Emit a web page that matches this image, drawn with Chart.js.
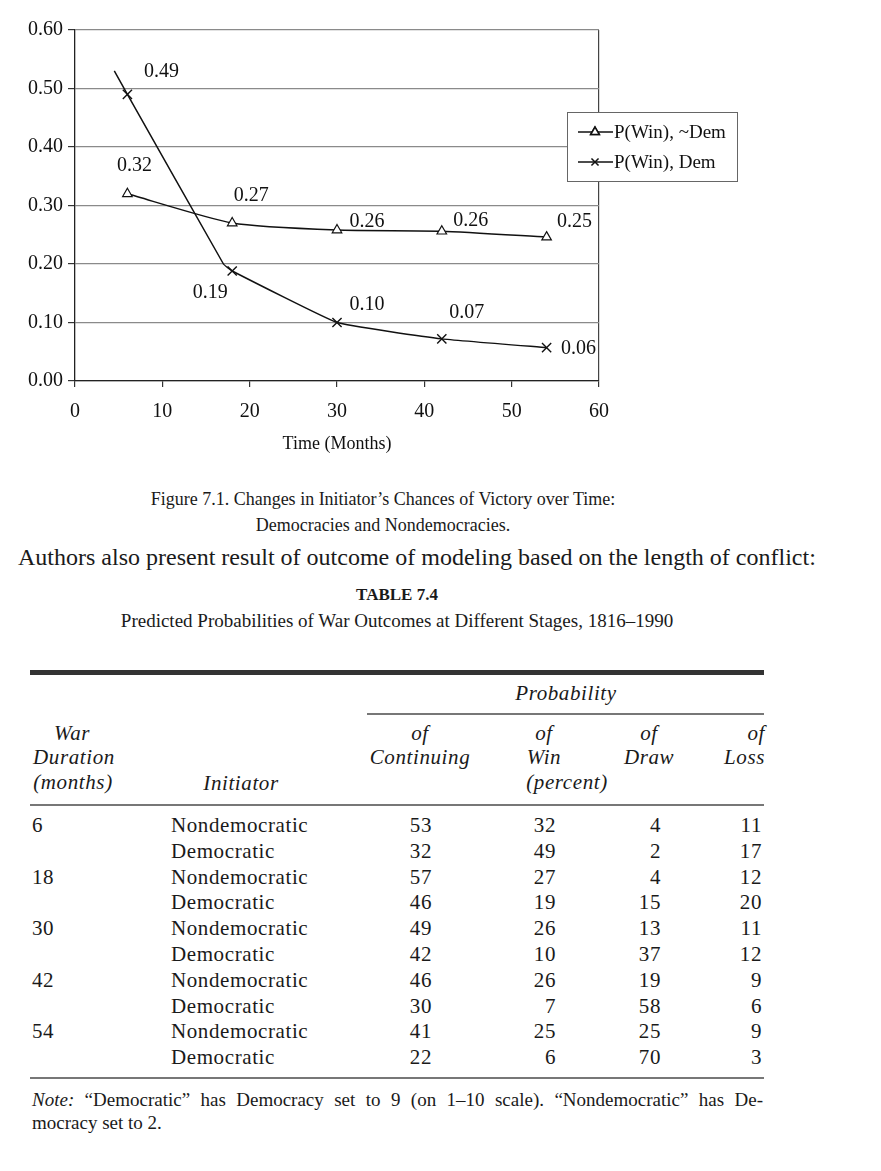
<!DOCTYPE html>
<html>
<head>
<meta charset="utf-8">
<script src="https://cdn.jsdelivr.net/npm/chart.js@4"></script>
<style>
  html, body { margin: 0; padding: 0; background: #fff; }
  body { width: 881px; height: 1171px; position: relative; overflow: hidden; font-family: "Liberation Serif", serif; color: #1a1a1a; }
  #chartBox { position: absolute; left: 0; top: 0; width: 760px; height: 465px; }
  .t { position: absolute; white-space: nowrap; }
  .c { text-align: center; }
  .rule { position: absolute; background: #333; }
  .grey { background: #777; }
  i { font-style: italic; }
</style>
</head>
<body>
<div id="chartBox"><canvas id="winChart"></canvas></div>

<div class="t c" style="left:0;width:766px;top:488px;font-size:18px;line-height:22px;">Figure 7.1. Changes in Initiator’s Chances of Victory over Time:</div>
<div class="t c" style="left:0;width:766px;top:514px;font-size:18px;line-height:22px;">Democracies and Nondemocracies.</div>
<div class="t" style="left:18px;top:543px;font-size:24px;line-height:28px;">Authors also present result of outcome of modeling based on the length of conflict:</div>
<div class="t c" style="left:0;width:794px;top:585px;font-size:17px;line-height:20px;font-weight:bold;">TABLE 7.4</div>
<div class="t c" style="left:0;width:794px;top:610px;font-size:19px;line-height:22px;">Predicted Probabilities of War Outcomes at Different Stages, 1816–1990</div>

<div id="table"></div>

<script>
// chart data
const months = [6, 18, 30, 42, 54];
const winNonDem = [0.32, 0.27, 0.258, 0.256, 0.246];
// the Dem line is drawn from a little before 6 months and bends at about 17
const demLineX = [4.5, 6, 17, 18, 30, 42, 54];
const winDem = [0.53, 0.49, 0.20, 0.188, 0.10, 0.072, 0.057];
const demMarked = [false, true, false, true, true, true, true];
const seriesNames = ["P(Win), ~Dem", "P(Win), Dem"];
const yTicks = [0, 0.1, 0.2, 0.3, 0.4, 0.5, 0.6];
const xTicks = [0, 10, 20, 30, 40, 50, 60];

// table data
const durations = ["6", "18", "30", "42", "54"];
const initiators = ["Nondemocratic", "Democratic"];
const pContinuing = [53, 32, 57, 46, 49, 42, 46, 30, 41, 22];
const pWin = [32, 49, 27, 19, 26, 10, 26, 7, 25, 6];
const pDraw = [4, 2, 4, 15, 13, 37, 19, 58, 25, 70];
const pLoss = [11, 17, 12, 20, 11, 12, 9, 6, 9, 3];

const SERIF = "'Liberation Serif', 'Times New Roman', serif";

// label offsets from each marked point (pixels)
const labelOffsets = [
    [[7, -28], [19, -27], [30, -8], [29, -10], [28, -15]],
    [[34, -23], [-22, 22], [30, -18], [25, -26], [32, 1]],
];

const pointLabels = {
    id: "pointLabels",
    afterDatasetsDraw(chart) {
        const ctx = chart.ctx;
        ctx.save();
        ctx.font = "20px " + SERIF;
        ctx.fillStyle = "#111";
        ctx.textAlign = "center";
        ctx.textBaseline = "middle";
        chart.data.datasets.forEach((ds, di) => {
            const meta = chart.getDatasetMeta(di);
            let k = 0;
            ds.data.forEach((pt, i) => {
                if (ds.marked && !ds.marked[i]) return;
                const el = meta.data[i];
                const off = labelOffsets[di][k++];
                ctx.fillText(pt.y.toFixed(2), el.x + off[0], el.y + off[1]);
            });
        });
        ctx.restore();
    },
};

const boxLegend = {
    id: "boxLegend",
    afterDraw(chart) {
        const ctx = chart.ctx;
        const x0 = 567, y0 = 112, w = 170, h = 69;
        ctx.save();
        ctx.fillStyle = "#fff";
        ctx.fillRect(x0, y0, w, h);
        ctx.strokeStyle = "#666";
        ctx.lineWidth = 1;
        ctx.strokeRect(x0 + 0.5, y0 + 0.5, w, h);
        ctx.font = "19px " + SERIF;
        ctx.fillStyle = "#111";
        ctx.textBaseline = "middle";
        chart.data.datasets.forEach((ds, i) => {
            const y = y0 + 20 + i * 30;
            ctx.strokeStyle = "#111";
            ctx.lineWidth = 1.5;
            ctx.beginPath();
            ctx.moveTo(x0 + 11, y);
            ctx.lineTo(x0 + 46, y);
            ctx.stroke();
            Chart.helpers.drawPoint(ctx, {
                pointStyle: ds.pointStyle, radius: 5, rotation: 0,
                borderWidth: 1.2,
            }, x0 + 28, y);
            if (ds.pointStyle === "triangle") {
                ctx.fillStyle = "#fff";
                ctx.fill();
                ctx.stroke();
                ctx.fillStyle = "#111";
            }
            ctx.fillText(ds.label, x0 + 47, y + 1);
        });
        ctx.restore();
    },
};

new Chart(document.getElementById("winChart"), {
    type: "line",
    data: {
        datasets: [
            {
                label: seriesNames[0],
                data: months.map((m, i) => ({ x: m, y: winNonDem[i] })),
                borderColor: "#111",
                borderWidth: 1.5,
                pointStyle: "triangle",
                pointRadius: 5.5,
                pointBackgroundColor: "#fff",
                pointBorderColor: "#111",
                pointBorderWidth: 1.2,
                tension: 0.2,
            },
            {
                label: seriesNames[1],
                data: demLineX.map((m, i) => ({ x: m, y: winDem[i] })),
                marked: demMarked,
                borderColor: "#111",
                borderWidth: 1.5,
                pointStyle: "crossRot",
                pointRadius: demMarked.map((m) => (m ? 6.5 : 0)),
                pointBorderColor: "#111",
                pointBorderWidth: 1.4,
                tension: 0.1,
            },
        ],
    },
    options: {
        responsive: true,
        maintainAspectRatio: false,
        animation: false,
        layout: { padding: { left: 0, right: 161, top: 30, bottom: 0 } },
        plugins: {
            legend: { display: false },
            tooltip: { enabled: false },
        },
        scales: {
            x: {
                type: "linear",
                min: 0,
                max: 60,
                afterBuildTicks: (s) => { s.ticks = xTicks.map((v) => ({ value: v })); },
                afterFit: (s) => { s.height = 84; },
                border: { color: "#222", width: 1.3 },
                grid: {
                    color: (c) => (c.tick && c.tick.value === 60 ? "#444" : "rgba(0,0,0,0)"),
                    tickColor: "#333",
                    tickLength: 6,
                    lineWidth: 1.2,
                },
                ticks: {
                    padding: 13,
                    color: "#111",
                    font: { family: SERIF, size: 20 },
                    maxRotation: 0,
                },
                title: {
                    display: true,
                    text: "Time (Months)",
                    color: "#111",
                    font: { family: SERIF, size: 18 },
                    padding: { top: 0, bottom: 10 },
                },
            },
            y: {
                min: 0,
                max: 0.6,
                afterBuildTicks: (s) => { s.ticks = yTicks.map((v) => ({ value: v })); },
                afterFit: (s) => { s.width = 75; },
                border: { color: "#222", width: 1.3 },
                grid: {
                    color: "#8a8a8a",
                    tickColor: "#333",
                    tickLength: 7,
                    lineWidth: 1.2,
                },
                ticks: {
                    padding: 5,
                    color: "#111",
                    font: { family: SERIF, size: 20 },
                    callback: (v) => Number(v).toFixed(2),
                },
            },
        },
    },
    plugins: [pointLabels, boxLegend],
});

// table
const table = document.getElementById("table");
function put(html, x, y, align) {
    const d = document.createElement("div");
    d.className = "t";
    d.innerHTML = html;
    let style = "top:" + (y - 13) + "px;line-height:26px;font-size:21px;letter-spacing:0.6px;";
    if (align === "center") style += "left:" + (x - 100) + "px;width:200px;text-align:center;";
    else if (align === "right") style += "left:" + (x - 200) + "px;width:200px;text-align:right;";
    else style += "left:" + x + "px;";
    d.style.cssText = style;
    table.appendChild(d);
}
function rule(x, y, w, h, cls) {
    const d = document.createElement("div");
    d.className = "rule " + (cls || "");
    d.style.cssText = "left:" + x + "px;top:" + y + "px;width:" + w + "px;height:" + h + "px;";
    table.appendChild(d);
}

rule(30, 670, 734, 5);
put("<i>Probability</i>", 566, 693, "center");
rule(367, 713, 397, 1.5, "grey");
put("<i>War</i>", 72, 733, "center");
put("<i>Duration</i>", 74, 757, "center");
put("<i>(months)</i>", 73, 782, "center");
put("<i>Initiator</i>", 241, 783, "center");
put("<i>of</i>", 420, 733, "center");
put("<i>Continuing</i>", 420, 757, "center");
put("<i>of</i>", 544, 733, "center");
put("<i>Win</i>", 544, 757, "center");
put("<i>(percent)</i>", 567, 782, "center");
put("<i>of</i>", 649, 733, "center");
put("<i>Draw</i>", 649, 757, "center");
put("<i>of</i>", 765, 733, "right");
put("<i>Loss</i>", 765, 757, "right");
rule(30, 804, 734, 2, "grey");

pContinuing.forEach((v, i) => {
    const y = 825 + i * 25.8;
    if (i % 2 === 0) put(durations[i / 2], 32, y, "left");
    put(initiators[i % 2], 171, y, "left");
    put(String(v), 432, y, "right");
    put(String(pWin[i]), 556, y, "right");
    put(String(pDraw[i]), 661, y, "right");
    put(String(pLoss[i]), 762, y, "right");
});
rule(30, 1077, 734, 2, "grey");

const note = document.createElement("div");
note.className = "t";
note.style.cssText = "left:32px;top:1088px;width:731px;font-size:19px;line-height:23px;white-space:normal;text-align:left;";
note.innerHTML = "<div style='white-space:nowrap;text-align:justify;text-align-last:justify'><i>Note:</i> “Democratic” has Democracy set to 9 (on 1–10 scale). “Nondemocratic” has De-</div>mocracy set to 2.";
table.appendChild(note);
</script>
</body>
</html>
